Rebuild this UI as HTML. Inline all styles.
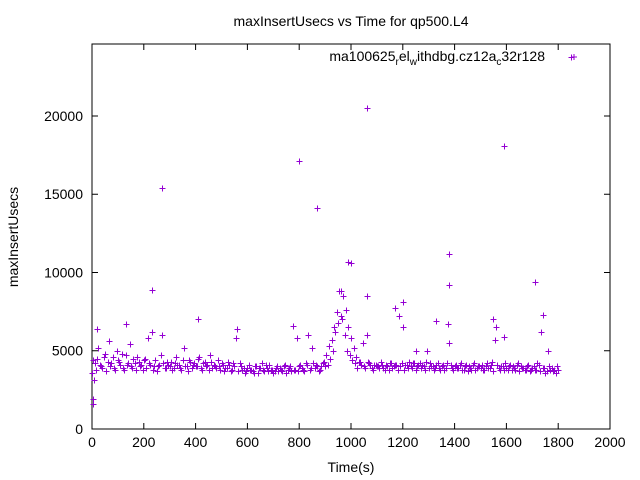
<!DOCTYPE html>
<html><head><meta charset="utf-8"><style>
html,body{margin:0;padding:0;background:#fff;}
svg{display:block;font-family:"Liberation Sans",sans-serif;}
</style></head><body>
<svg id="chart" width="640" height="480" viewBox="0 0 640 480" xmlns="http://www.w3.org/2000/svg">
<rect width="640" height="480" fill="#fff"/>
<text x="351" y="26" font-size="14" text-anchor="middle">maxInsertUsecs vs Time for qp500.L4</text>
<text x="351" y="472" font-size="14" text-anchor="middle">Time(s)</text>
<text transform="translate(18,237) rotate(-90)" font-size="14" text-anchor="middle">maxInsertUsecs</text>
<g id="axes"></g>
<g id="marks"></g>
<g>
<text x="545" y="61" font-size="14" text-anchor="end">ma100625<tspan font-size="10" dy="4">r</tspan><tspan dy="-4">el</tspan><tspan font-size="10" dy="4">w</tspan><tspan dy="-4">ithdbg.cz12a</tspan><tspan font-size="10" dy="4">c</tspan><tspan dy="-4">32r128</tspan></text>
<path d="M571,57h6M574,54v6" stroke="#9400d3" stroke-width="1"/>
</g>
</svg>
<script>
const xTicks=[0,200,400,600,800,1000,1200,1400,1600,1800,2000];
const yTicks=[0,5000,10000,15000,20000];
const band1=[3600,4200,4500,4100,3900,4800,4300,4000,4600,3800,4400,
4100,3900,4700,4200,4000,4500,3800,4300,4100,4400,
3900,4200,6200,4000,3700,4100,6000,3900,4300,4000,
3800,4200,4100,3900,4400,4000,3700,4300,4100,4000,
4500,3900,4200,4000,3800,4300,4100,3900,4000,4200,
3700,3900,4100,3800,4000,6400,4200,3800,3600,3900,
3800,3700,4000,3600,3900,3800,4100,3700,3800,3600,
3900,3700,3800,4000,3600,3900,3700,3800,5800,4000,
3900,3700,4100,3800,5200,3900,4000,3800,4200,4000,
4100,4500,5000,6200,6800,7200,8500,7600,6500,5800,
5200,4600,4300,4100,4000,6000,4200,3900,4100,4000,
3900,4100,3800,4000,4200,3900,4100,3800,4000,6500,
4100,3900,4000,4200,3800,4100,3900,4000,4300,3900,
4000,3800,4100,3900,4000,3800,4200,5500,3900,4000,
3900,4100,3800,4000,3700,3900,4100,3800,4000,3900,
3800,4000,3900,4100,3700,6500,3900,4000,3800,3900,
4000,3800,3900,4100,3700,3900,3800,4000,3700,3900,
3800,4200,3700,3900,3600,5000,3800,3700,3600,3800];
const band2=[4400,3800,5200,4000,4600,3700,5600,4200,3900,5000,
4300,4800,3800,4100,5400,3900,4200,4600,4000,3800,
4500,5800,4100,3800,4400,4000,4700,4200,3900,4100,
4300,3900,4600,4100,3800,5200,4000,4400,3900,4200,
4000,4600,3800,4300,4100,4700,3900,4000,4400,3800,
4100,3900,4300,3700,4200,5800,3700,4000,3900,3700,
4100,3800,3600,4000,3900,4200,3700,3900,4100,3800,
3700,4000,3900,3700,4100,3800,4000,6600,3800,3700,
4100,3800,4200,6000,3900,4200,4100,3700,4000,4300,
4700,5300,5700,6500,7500,8800,7000,6000,5000,4700,
4400,4200,3900,4300,5500,3900,4300,4100,3800,4100,
4000,4300,3900,4100,3800,4200,4000,4100,7200,4200,
3800,4100,4300,3900,4200,4000,4200,4100,3800,5000,
4200,4000,3900,4200,3800,4100,3900,6700,4100,3800,
4100,3900,4200,3800,4100,4000,3800,4200,3900,4000,
4100,3800,4200,3900,4300,5700,4100,3800,4000,4200,
3800,4100,4000,3800,4200,4000,3900,3800,4100,3800,
4000,3800,4100,6200,3900,3700,4000,3900,3800,4000];
const outX=[5,5,8,20,230,270,800,870,990,1000,1060,1590,1380,1380,1710,1200,1250,1330,1590,1170,1550,1740,1850,1060,960,410,130];
const outY=[1900,1600,3100,6400,8900,15400,17100,14100,10700,10600,20500,18100,11200,9200,9400,8100,5000,6900,5900,7700,7000,7300,23800,8500,8800,7000,6700];
const x0=92,x1=610,y0=429,y1=44,xMax=2000,yMax=24600;
const sx=v=>x0+(v/xMax)*(x1-x0);
const sy=v=>y0-(v/yMax)*(y0-y1);
const NS="http://www.w3.org/2000/svg";
const axes=document.getElementById('axes'),marks=document.getElementById('marks');
function mk(t,a,p){const e=document.createElementNS(NS,t);for(const k in a)e.setAttribute(k,a[k]);p.appendChild(e);return e;}
const frame=mk('rect',{x:x0,y:y1,width:x1-x0,height:y0-y1,fill:'none',stroke:'#000','stroke-width':1},axes);


xTicks.forEach(v=>{const x=sx(v);
 const t=mk('path',{d:`M${x},${y0}v-6M${x},${y1}v6`,stroke:'#000'},axes);
 
 
 const l=mk('text',{x:x,y:y0+18,'font-size':14,'text-anchor':'middle'},axes);l.textContent=v;
 
 });
yTicks.forEach(v=>{const y=sy(v);
 const t=mk('path',{d:`M${x0},${y}h6M${x1},${y}h-6`,stroke:'#000'},axes);
 
 
 const l=mk('text',{x:x0-9,y:y+5,'font-size':14,'text-anchor':'end'},axes);l.textContent=v;
 
 });
let d='';
function plus(xv,yv){const x=Math.round(sx(xv))+0.5,y=Math.round(sy(yv))+0.5;d+=`M${x-3},${y}h6M${x},${y-3}v6`;}
band1.forEach((v,i)=>plus(i*10,v));
band2.forEach((v,i)=>plus(i*10+5,v));
outX.forEach((v,i)=>plus(v,outY[i]));
const p=mk('path',{d:d,stroke:'#9400d3','stroke-width':1,fill:'none'},marks);


</script>
</body></html>
